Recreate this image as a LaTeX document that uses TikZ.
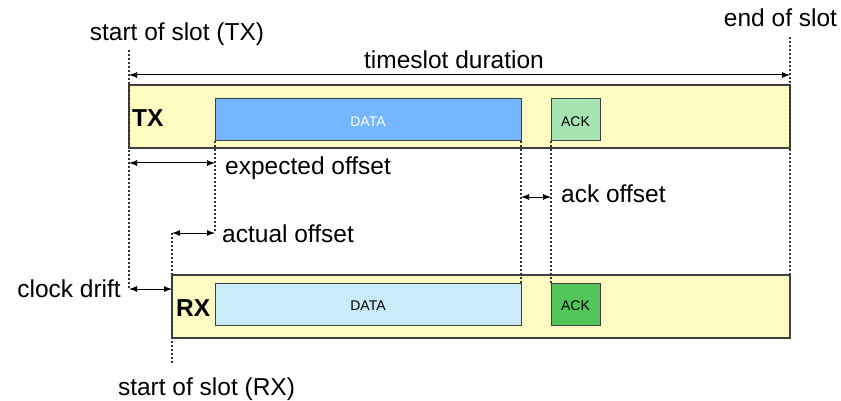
\documentclass[tikz,border=0pt]{standalone}
\usepackage{fontspec}
\setmainfont{Liberation Sans}
\usetikzlibrary{arrows.meta}
\definecolor{barfill}{HTML}{FDFAC2}
\definecolor{txdata}{HTML}{74B6FF}
\definecolor{txack}{HTML}{A8E4B2}
\definecolor{rxdata}{HTML}{C9ECF8}
\definecolor{rxack}{HTML}{52C65A}
\definecolor{edge}{HTML}{404040}
\tikzset{
  bar/.style={draw=edge, fill=barfill, line width=1.2pt, inner sep=0pt, outer sep=0pt, anchor=north west},
  pkt/.style={draw=edge, line width=1pt, inner sep=0pt, outer sep=0pt, anchor=north west, minimum height=42pt, font=\fontsize{14}{16}\selectfont},
  lbl/.style={inner sep=0pt, font=\fontsize{24.5}{28}\selectfont},
  side/.style={inner sep=0pt, font=\fontsize{24.5}{28}\selectfont\bfseries},
  guide/.style={line width=1.1pt, dash pattern=on 2pt off 2pt, black!80},
  dim/.style={line width=1pt, {Latex[length=8pt,width=6pt]}-{Latex[length=8pt,width=6pt]}}
}
\begin{document}
\begin{tikzpicture}[x=1pt,y=-1pt]
\useasboundingbox (0,0) rectangle (841,401);
% bars
\node[bar, minimum width=661pt, minimum height=63pt] (txbar) at (129,85) {};
\node[bar, minimum width=618pt, minimum height=63pt] (rxbar) at (172,275) {};
% packets
\node[pkt, fill=txdata, minimum width=306pt, text=white] (txd) at (215,99) {};
\node[pkt, fill=txack, minimum width=49pt] (txa) at (551,99) {};
\node[pkt, fill=rxdata, minimum width=306pt] (rxd) at (215,283) {};
\node[pkt, fill=rxack, minimum width=49pt] (rxa) at (551,283) {};
\node[anchor=base, inner sep=0pt, font=\fontsize{14}{16}\selectfont, text=white] (txdl) at (368,127) {DATA};
\node[anchor=base, inner sep=0pt, font=\fontsize{14}{16}\selectfont] (txal) at (575.5,127) {ACK};
\node[anchor=base, inner sep=0pt, font=\fontsize{14}{16}\selectfont] (rxdl) at (368,310) {DATA};
\node[anchor=base, inner sep=0pt, font=\fontsize{14}{16}\selectfont] (rxal) at (575.5,310) {ACK};
% side labels
\node[side, anchor=base west] (txl) at (132,127) {TX};
\node[side, anchor=base west] (rxl) at (176,316) {RX};
% guide coordinates
\coordinate (g1t) at (129,50);
\coordinate (g1b) at (129,289);
\coordinate (g2t) at (172,233);
\coordinate (g2b) at (172,365);
\coordinate (g3b) at (215,233);
\coordinate (g6t) at (790,37);
\coordinate (eo) at (215,163);
\coordinate (eos) at (129,163);
\coordinate (ts1) at (129,75);
\coordinate (ts2) at (790,75);
\coordinate (ak) at (521,197);
\coordinate (ak2) at (551,197);
% dotted guides
\draw[guide] (g1t) -- (g1b);
\draw[guide] (g2t) -- (g2b);
\draw[guide] (txd.south west) -- (g3b);
\draw[guide] (txd.south east) -- (rxd.north east);
\draw[guide] (txa.south west) -- (rxa.north west);
\draw[guide] (g6t) -- (rxbar.north east);
% dimension arrows
\draw[dim] (ts1) -- (ts2);
\draw[dim] (eos) -- (eo);
\draw[dim] (g2t) -- (g3b);
\draw[dim] (ak) -- (ak2);
\draw[dim] (g1b) -- (rxbar.north west |- g1b);
% labels
\node[lbl, anchor=base] (l1) at (177,41) {start of slot (TX)};
\node[lbl, anchor=base] (l2) at (780.5,27) {end of slot};
\node[lbl, anchor=base] (l3) at (454,69) {timeslot duration};
\node[lbl, anchor=base west] (l4) at (225,175) {expected offset};
\node[lbl, anchor=base west] (l5) at (222,242) {actual offset};
\node[lbl, anchor=base west] (l6) at (561,203) {ack offset};
\node[lbl, anchor=base east] (l7) at (121,297) {clock drift};
\node[lbl, anchor=base] (l8) at (206.5,395) {start of slot (RX)};
\end{tikzpicture}
\end{document}
